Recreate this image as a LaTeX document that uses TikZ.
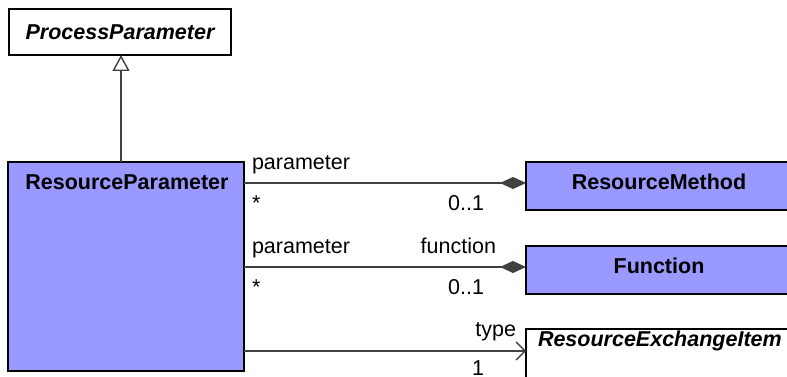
\documentclass[tikz,border=0pt]{standalone}
\usepackage{fontspec}
\setmainfont{Liberation Sans}
\usetikzlibrary{arrows.meta}
\definecolor{clsfill}{HTML}{9999FF}
\definecolor{lnk}{HTML}{404040}
\begin{document}
\begin{tikzpicture}[x=1pt,y=1pt,
  every node/.style={inner sep=0pt,outer sep=0pt},
  lbl/.style={font=\fontsize{21.5}{24}\selectfont},
  ttl/.style={font=\fontsize{21.5}{24}\selectfont\bfseries},
  ittl/.style={font=\fontsize{21.5}{24}\selectfont\bfseries\itshape},
  clsbox/.style={draw=black,line width=1.6pt,rectangle},
  link/.style={draw=lnk,line width=1.6pt},
  comp/.style={link,-{Diamond[length=26pt,width=12pt,fill=lnk]}},
  nav/.style={link,-{Straight Barb[length=9pt,width=18pt,line width=1.4pt]}},
  gen/.style={link,-{Triangle[open,length=16pt,width=17pt,fill=white,line width=1.4pt]}}
]
\useasboundingbox (0,0) rectangle (787,-377);
\clip (0,0) rectangle (787,-377);
% class boxes
\node[clsbox,fill=white,minimum width=222pt,minimum height=46pt,anchor=north west] (PP) at (9,-9) {};
\node[ittl] (PPt) at (PP.center) {ProcessParameter};
\node[clsbox,fill=clsfill,minimum width=236pt,minimum height=209pt,anchor=north west] (RP) at (8,-162) {};
\node[ttl,anchor=base] (RPt) at (127,-189) {ResourceParameter};
\node[clsbox,fill=clsfill,minimum width=266pt,minimum height=48pt,anchor=north west] (RM) at (526,-162) {};
\node[ttl,anchor=base] (RMt) at (659,-189) {ResourceMethod};
\node[clsbox,fill=clsfill,minimum width=266pt,minimum height=48pt,anchor=north west] (FN) at (526,-246) {};
\node[ttl,anchor=base] (FNt) at (659,-273) {Function};
\node[clsbox,fill=white,minimum width=270pt,minimum height=70pt,anchor=north west] (REI) at (526,-329) {};
\node[ittl,anchor=base west] (REIt) at (538,-346) {ResourceExchangeItem};
% connector anchor points
\coordinate (a1) at (RP.east |- 0,-183);
\coordinate (b1) at (RM.west |- 0,-183);
\coordinate (a2) at (RP.east |- 0,-267);
\coordinate (b2) at (FN.west |- 0,-267);
\coordinate (a3) at (RP.east |- 0,-351);
\coordinate (b3) at (REI.west |- 0,-351);
% connectors
\draw[gen] (RP.north -| 121,0) -- (PP.south -| 121,0);
\draw[comp] (a1) -- (b1);
\draw[comp] (a2) -- (b2);
\draw[nav] (a3) -- (b3);
% labels
\node[lbl,anchor=base west] (l1a) at (252,-169) {parameter};
\node[lbl,anchor=base west] (l1b) at (252,-210) {*};
\node[lbl,anchor=base east] (l1c) at (484,-210.5) {0..1};
\node[lbl,anchor=base west] (l2a) at (252,-253) {parameter};
\node[lbl,anchor=base east] (l2d) at (496,-253) {function};
\node[lbl,anchor=base west] (l2b) at (252,-294) {*};
\node[lbl,anchor=base east] (l2c) at (484,-294) {0..1};
\node[lbl,anchor=base east] (l3a) at (516,-336) {type};
\node[lbl,anchor=base west] (l3b) at (472,-375.5) {1};
\end{tikzpicture}
\end{document}
